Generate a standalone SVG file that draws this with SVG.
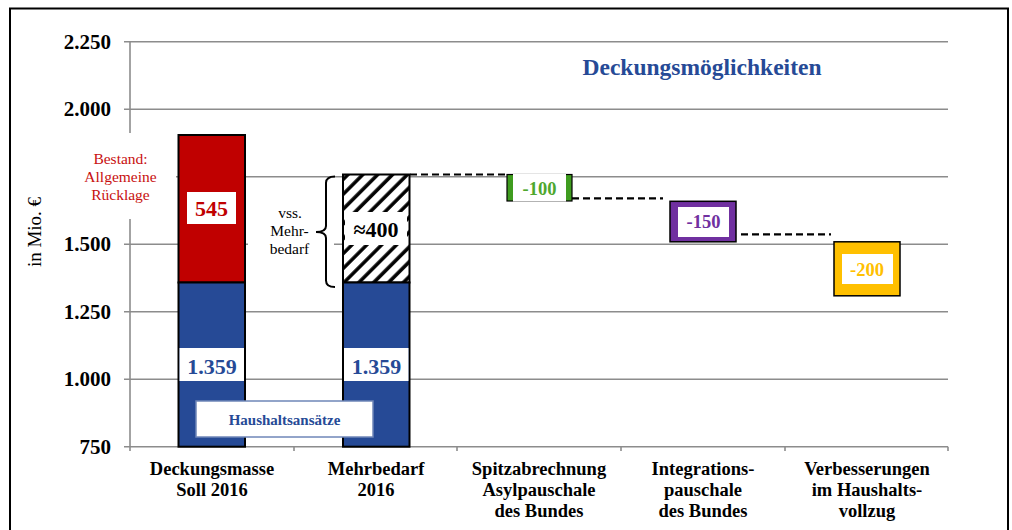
<svg xmlns="http://www.w3.org/2000/svg" width="1012" height="530" viewBox="0 0 1012 530">
<style>
text{font-family:"Liberation Serif","Times New Roman",serif}
.grid{stroke:#8c8c8c;stroke-width:1.6;fill:none}
.ylab{font-size:21px;font-weight:bold;text-anchor:end;fill:#000}
.cat{font-size:18.5px;font-weight:bold;text-anchor:middle;fill:#000}
.bar{stroke:#000;stroke-width:2}
.dash{stroke:#000;stroke-width:2.2;stroke-dasharray:7 4;fill:none}
.val{font-weight:bold;text-anchor:middle}
</style>
<defs>
<pattern id="hatch" patternUnits="userSpaceOnUse" width="10.5" height="10.5" patternTransform="rotate(45)">
<rect width="10.5" height="10.5" fill="#fff"/>
<line x1="2" y1="0" x2="2" y2="10.5" stroke="#000" stroke-width="3.5"/>
</pattern>
</defs>
<rect x="0" y="0" width="1012" height="530" fill="#fff"/>
<rect x="10" y="8.5" width="998" height="540" fill="none" stroke="#000" stroke-width="2"/>

<g id="axes">
<line class="grid" x1="124" y1="41.7" x2="948" y2="41.7"/>
<line class="grid" x1="124" y1="109.2" x2="948" y2="109.2"/>
<line class="grid" x1="124" y1="176.7" x2="948" y2="176.7"/>
<line class="grid" x1="124" y1="244.2" x2="948" y2="244.2"/>
<line class="grid" x1="124" y1="311.7" x2="948" y2="311.7"/>
<line class="grid" x1="124" y1="379.2" x2="948" y2="379.2"/>
<line class="grid" x1="124" y1="446.7" x2="948" y2="446.7"/>
<line class="grid" x1="130" y1="41.7" x2="130" y2="451"/>
<line class="grid" x1="294" y1="446.7" x2="294" y2="451"/>
<line class="grid" x1="457" y1="446.7" x2="457" y2="451"/>
<line class="grid" x1="621" y1="446.7" x2="621" y2="451"/>
<line class="grid" x1="785" y1="446.7" x2="785" y2="451"/>
<line class="grid" x1="948" y1="446.7" x2="948" y2="451"/>
<text class="ylab" x="111" y="48.7">2.250</text>
<text class="ylab" x="111" y="116.2">2.000</text>
<text class="ylab" x="111" y="251.2">1.500</text>
<text class="ylab" x="111" y="318.7">1.250</text>
<text class="ylab" x="111" y="386.2">1.000</text>
<text class="ylab" x="111" y="453.7">750</text>
<text x="41" y="232" transform="rotate(-90 41 232)" font-size="19" text-anchor="middle" fill="#000">in Mio. €</text>
</g>

<text x="702" y="75" font-size="23.5" font-weight="bold" text-anchor="middle" fill="#264a96">Deckungsmöglichkeiten</text>

<g id="bestand-label">
<rect x="62" y="133" width="114" height="86" fill="#fff"/>
<text x="120.5" y="164" font-size="15.5" text-anchor="middle" fill="#c81010">Bestand:</text>
<text x="120.5" y="182" font-size="15.5" text-anchor="middle" fill="#c81010">Allgemeine</text>
<text x="120.5" y="200" font-size="15.5" text-anchor="middle" fill="#c81010">Rücklage</text>
</g>

<g id="bar-deckungsmasse">
<rect class="bar" x="178.5" y="135" width="66.5" height="147.5" fill="#c00000"/>
<rect class="bar" x="178.5" y="282.5" width="66.5" height="164.2" fill="#264a96"/>
<rect x="187" y="192" width="49" height="32" fill="#fff"/>
<text class="val" x="211.5" y="215.5" font-size="22" fill="#c00000">545</text>
<rect x="179.5" y="348" width="64.5" height="33" fill="#fff"/>
<text class="val" x="212" y="373.5" font-size="22" fill="#264a96">1.359</text>
</g>

<g id="bar-mehrbedarf">
<rect class="bar" x="343" y="174.5" width="66.5" height="108" fill="url(#hatch)"/>
<rect class="bar" x="343" y="282.5" width="66.5" height="164.2" fill="#264a96"/>
<rect x="345" y="212" width="62" height="33" fill="#fff"/>
<text class="val" x="376" y="236.7" font-size="22" fill="#000">≈400</text>
<rect x="344" y="348" width="64.5" height="33" fill="#fff"/>
<text class="val" x="376.5" y="373.5" font-size="22" fill="#264a96">1.359</text>
</g>

<g id="haushaltsansaetze">
<rect x="196" y="401" width="177" height="36" fill="#fff" stroke="#6f86b8" stroke-width="1.5"/>
<text x="284.5" y="425" font-size="15" font-weight="bold" text-anchor="middle" fill="#264a96">Haushaltsansätze</text>
</g>

<g id="vss-label">
<rect x="248" y="196" width="86" height="64" fill="#fff"/>
<text x="290" y="218.3" font-size="15.5" text-anchor="middle" fill="#000">vss.</text>
<text x="289.5" y="236" font-size="15.5" text-anchor="middle" fill="#000">Mehr-</text>
<text x="289.5" y="253.5" font-size="15.5" text-anchor="middle" fill="#000">bedarf</text>
<path d="M335,176.5 Q326,176.5 326,183 L326,226 Q326,232 316,232 Q326,232 326,238 L326,280.5 Q326,287 335,287" fill="none" stroke="#000" stroke-width="2"/>
</g>

<g id="connectors">
<line class="dash" x1="410" y1="174.5" x2="507" y2="174.5"/>
<line class="dash" x1="572" y1="198.3" x2="663" y2="198.3"/>
<line class="dash" x1="741" y1="234.3" x2="831" y2="234.3"/>
</g>

<g id="bar-spitzabrechnung">
<rect x="507" y="174.5" width="65" height="26.5" fill="#3f9c1f" stroke="#000" stroke-width="1.2"/>
<rect x="513" y="174" width="53" height="27.5" fill="#fff"/>
<text class="val" x="539.5" y="195" font-size="18.5" fill="#4ea72e">-100</text>
</g>

<g id="bar-integration">
<rect x="670" y="201.3" width="66" height="40.5" fill="#7030a0" stroke="#000" stroke-width="1.5"/>
<rect x="678" y="207" width="51" height="30" fill="#fff"/>
<text class="val" x="703.5" y="228.3" font-size="18.5" fill="#7030a0">-150</text>
</g>

<g id="bar-verbesserungen">
<rect x="834" y="241.8" width="66" height="54" fill="#ffc000" stroke="#000" stroke-width="1.5"/>
<rect x="842" y="254" width="51" height="30" fill="#fff"/>
<text class="val" x="867" y="276" font-size="18.5" fill="#ffc000">-200</text>
</g>

<g id="categories">
<text class="cat" x="212" y="475">Deckungsmasse</text>
<text class="cat" x="212" y="496">Soll 2016</text>
<text class="cat" x="376" y="475">Mehrbedarf</text>
<text class="cat" x="376" y="496">2016</text>
<text class="cat" x="539" y="475">Spitzabrechnung</text>
<text class="cat" x="539" y="496">Asylpauschale</text>
<text class="cat" x="539" y="517">des Bundes</text>
<text class="cat" x="703" y="475">Integrations-</text>
<text class="cat" x="703" y="496">pauschale</text>
<text class="cat" x="703" y="517">des Bundes</text>
<text class="cat" x="867" y="475">Verbesserungen</text>
<text class="cat" x="867" y="496">im Haushalts-</text>
<text class="cat" x="867" y="517">vollzug</text>
</g>
</svg>
